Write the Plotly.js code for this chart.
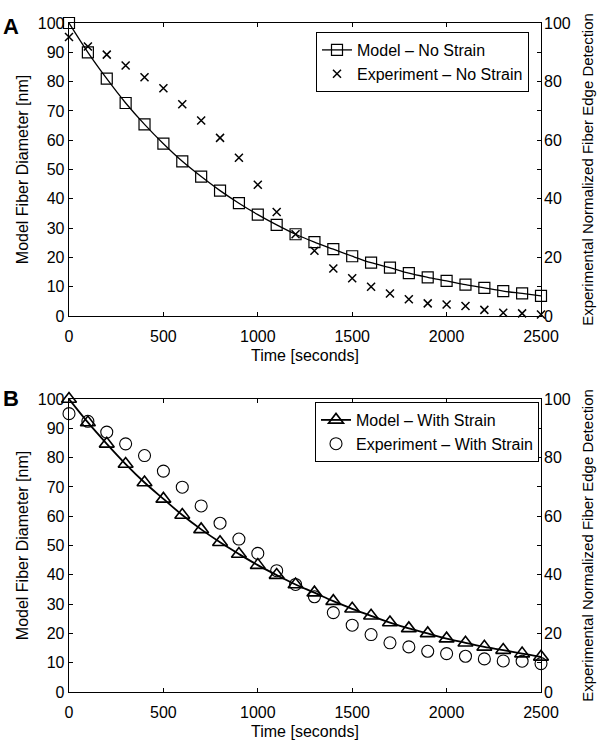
<!DOCTYPE html>
<html>
<head>
<meta charset="utf-8">
<script src="https://cdn.plot.ly/plotly-3.0.1.min.js"></script>
<style>html,body{margin:0;padding:0;background:#fff;}#chart{width:598px;height:748px;}</style>
</head>
<body>
<div id="chart"></div>
<script>
// ---- Data ----
const timeSeconds = [0,100,200,300,400,500,600,700,800,900,1000,1100,1200,1300,1400,1500,1600,1700,1800,1900,2000,2100,2200,2300,2400,2500];

const modelNoStrain = [100,90.0,81.0,72.7,65.4,58.8,52.8,47.6,42.8,38.5,34.6,31.1,27.9,25.2,22.8,20.4,18.2,16.5,14.6,13.2,12.0,10.7,9.6,8.5,7.7,6.9];
const experimentNoStrain = [95.2,92.0,89.2,85.5,81.5,77.7,72.3,66.7,60.8,54.0,44.8,35.5,27.9,22.3,16.2,12.9,10.0,7.7,5.7,4.3,3.9,3.4,2.1,1.1,0.9,0.5];

const modelWithStrain = [100,92.0,84.7,77.8,71.5,65.9,60.4,55.5,51.1,47.1,43.3,39.9,36.7,33.9,31.0,28.4,26.0,23.7,21.7,20.0,18.2,16.8,15.4,14.3,13.1,12.0];
const experimentWithStrain = [95.0,92.4,88.7,84.7,80.7,75.4,69.9,63.5,57.6,52.2,47.3,41.4,36.7,32.5,27.1,22.8,19.6,16.8,15.4,13.9,13.1,12.2,11.3,10.6,10.5,9.7];

const xTickVals = [0,500,1000,1500,2000,2500];
const leftTickVals = [0,10,20,30,40,50,60,70,80,90,100];
const rightTickVals = [0,20,40,60,80,100];

const panelLabels = ['A','B'];
const legendNames = ['Model \u2013 No Strain','Experiment \u2013 No Strain','Model \u2013 With Strain','Experiment \u2013 With Strain'];
const xTitle = 'Time [seconds]';
const leftTitle = 'Model Fiber Diameter [nm]';
const rightTitle = 'Experimental Normalized Fiber Edge Detection';

// ---- Layout geometry ----
const W = 598, H = 748;
const FONT = 'Liberation Sans, Arial, Helvetica, sans-serif';
const xDom = [69/W, 541/W];
const yDomTop = [(H-316)/H, (H-23)/H];
const yDomBot = [(H-692)/H, (H-399)/H];

const traces = [
  {x: timeSeconds, y: modelNoStrain, name: legendNames[0], xaxis:'x', yaxis:'y', legend:'legend',
   mode:'lines+markers', line:{color:'#000', width:1.3, shape:'spline'},
   marker:{symbol:'square-open', size:11, color:'#000', line:{width:1.2}}, cliponaxis:false},
  {x: timeSeconds, y: experimentNoStrain, name: legendNames[1], xaxis:'x', yaxis:'y2', legend:'legend',
   mode:'markers', marker:{symbol:'x-thin-open', size:8, color:'#000', line:{width:1.5, color:'#000'}}, cliponaxis:false},
  {x: timeSeconds, y: modelWithStrain, name: legendNames[2], xaxis:'x2', yaxis:'y3', legend:'legend2',
   mode:'lines+markers', line:{color:'#000', width:1.8, shape:'spline'},
   marker:{symbol:'triangle-up-open', size:13, color:'#000', line:{width:1.6}}, cliponaxis:false},
  {x: timeSeconds, y: experimentWithStrain, name: legendNames[3], xaxis:'x2', yaxis:'y4', legend:'legend2',
   mode:'markers', marker:{symbol:'circle-open', size:12, color:'#000', line:{width:1.1}}, cliponaxis:false}
];

const tickFont = {family: FONT, size: 16, color:'#000'};
function xAxis(anchor){
  return {domain:xDom, anchor:anchor, range:[0,2500], tickvals:xTickVals, ticks:'inside', ticklen:4,
    tickcolor:'#000', showline:true, linecolor:'#000', linewidth:1.3, mirror:'ticks', showgrid:false,
    zeroline:false, tickfont:tickFont, automargin:false, ticklabelstandoff:5,
    title:{text:xTitle, font:{family:FONT, size:16, color:'#000'}, standoff:6}};
}
function yLeft(anchor, dom){
  return {domain:dom, anchor:anchor, range:[0,100], tickvals:leftTickVals, ticks:'inside', ticklen:4,
    tickcolor:'#000', showline:true, linecolor:'#000', linewidth:1.3, mirror:'ticks', showgrid:false,
    zeroline:false, tickfont:tickFont, automargin:false,
    title:{text:leftTitle, font:{family:FONT, size:16, color:'#000'}, standoff:5}};
}
function yRight(anchor, overlay){
  return {anchor:anchor, overlaying:overlay, side:'right', range:[0,100], tickvals:rightTickVals,
    ticks:'', showline:false, showgrid:false, zeroline:false, tickfont:tickFont, automargin:false,
    ticklabelstandoff:2,
    title:{text:rightTitle, font:{family:FONT, size:15, color:'#000'}, standoff:12}};
}

const legendBase = {bgcolor:'#fff', bordercolor:'#000', borderwidth:1,
  font:{family:FONT, size:16, color:'#000'}, xanchor:'right', yanchor:'top',
  tracegroupgap:0, itemwidth:30};

const layout = {
  width:W, height:H, margin:{l:0, r:0, t:0, b:0},
  paper_bgcolor:'#fff', plot_bgcolor:'#fff',
  font:{family:FONT, size:16, color:'#000'},
  xaxis: xAxis('y'),
  yaxis: yLeft('x', yDomTop),
  yaxis2: yRight('x', 'y'),
  xaxis2: xAxis('y3'),
  yaxis3: yLeft('x2', yDomBot),
  yaxis4: yRight('x2', 'y3'),
  legend: Object.assign({}, legendBase, {x:529/W, y:1-32/H}),
  legend2: Object.assign({}, legendBase, {x:539/W, y:1-402/H}),
  annotations: [
    {text:'<b>'+panelLabels[0]+'</b>', xref:'paper', yref:'paper', x:1/W, y:1-26/H, xanchor:'left', yanchor:'middle',
     showarrow:false, font:{family:FONT, size:22, color:'#000'}},
    {text:'<b>'+panelLabels[1]+'</b>', xref:'paper', yref:'paper', x:1/W, y:1-398/H, xanchor:'left', yanchor:'middle',
     showarrow:false, font:{family:FONT, size:22, color:'#000'}}
  ],
  showlegend:true
};

Plotly.newPlot('chart', traces, layout, {staticPlot:true, displayModeBar:false});
</script>
</body>
</html>
